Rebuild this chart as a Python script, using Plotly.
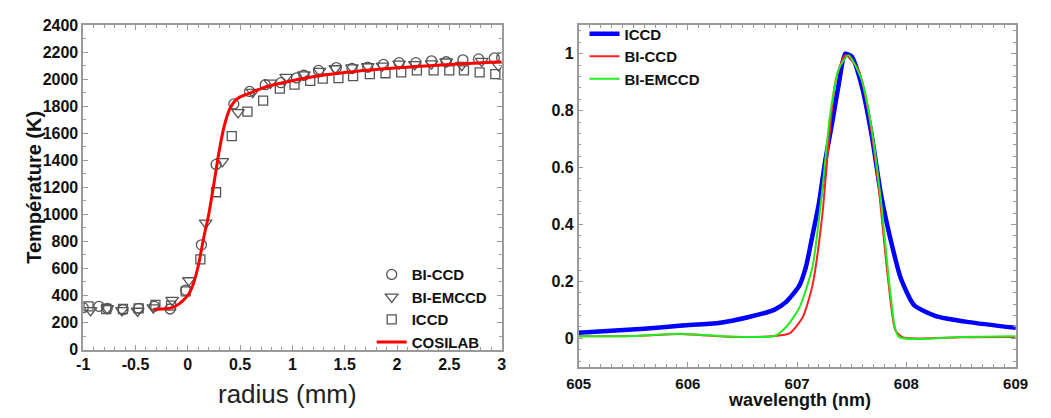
import plotly.graph_objects as go

# ---- Left panel: radial temperature profiles ----
bicc_r = [-1.0, -0.85, -0.77, -0.62, -0.47, -0.32, -0.17, -0.02, 0.13, 0.27, 0.44, 0.59, 0.74,
          0.89, 1.04, 1.11, 1.25, 1.42, 1.57, 1.72, 1.87, 2.02, 2.18, 2.33, 2.47, 2.63, 2.78, 2.93, 3.0]
bicc_t = [310, 320, 305, 295, 305, 320, 300, 440, 775, 1370, 1818, 1910, 1960,
          1975, 2010, 2030, 2066, 2087, 2080, 2090, 2110, 2123, 2123, 2137, 2130, 2144, 2151, 2158, 2160]

emccd_r = [-0.93, -0.77, -0.63, -0.48, -0.33, -0.15, 0.01, 0.17, 0.33, 0.48, 0.62, 0.79, 0.94,
           1.11, 1.26, 1.41, 1.57, 1.72, 1.86, 2.02, 2.17, 2.33, 2.47, 2.62, 2.81, 2.97]
emccd_t = [290, 305, 290, 285, 310, 365, 511, 937, 1392, 1755, 1905, 1974, 2016,
           2035, 2060, 2080, 2087, 2095, 2100, 2115, 2110, 2116, 2130, 2105, 2135, 2102]

iccd_r = [-0.95, -0.78, -0.62, -0.47, -0.31, -0.16, -0.02, 0.12, 0.27, 0.42, 0.57, 0.72, 0.88,
          1.02, 1.17, 1.29, 1.44, 1.58, 1.74, 1.89, 2.04, 2.19, 2.35, 2.50, 2.64, 2.79, 2.94]
iccd_t = [320, 300, 300, 305, 330, 325, 430, 667, 1164, 1580, 1761, 1842, 1931,
          1960, 1988, 2005, 2009, 2024, 2038, 2045, 2052, 2066, 2066, 2066, 2066, 2052, 2038]

cosilab_r = [-0.33, -0.25, -0.15, -0.08, 0.0, 0.05, 0.1, 0.15, 0.2, 0.25, 0.3, 0.35, 0.4,
             0.45, 0.5, 0.6, 0.75, 1.0, 1.13, 1.5, 2.0, 2.5, 3.0]
cosilab_t = [298, 300, 310, 340, 400, 480, 620, 820, 1000, 1230, 1470, 1660, 1780,
             1840, 1870, 1900, 1945, 1990, 2010, 2050, 2085, 2110, 2130]

radius_ticks = [-1, -0.5, 0, 0.5, 1, 1.5, 2, 2.5, 3]
radius_labels = ["-1", "-0.5", "0", "0.5", "1", "1.5", "2", "2.5", "3"]

# ---- Right panel: normalised line profiles ----
iccd_wl = [605.0, 605.6, 605.95, 606.28, 606.55, 606.79, 606.9, 607.02, 607.08, 607.14, 607.2,
           607.26, 607.32, 607.38, 607.44, 607.5, 607.59, 607.68, 607.77, 607.86, 607.95,
           608.07, 608.27, 608.57, 609.0]
iccd_int = [0.020, 0.034, 0.045, 0.054, 0.074, 0.10, 0.128, 0.185, 0.25, 0.36, 0.475,
            0.63, 0.755, 0.89, 1.0, 0.99, 0.89, 0.72, 0.50, 0.34, 0.21,
            0.117, 0.078, 0.057, 0.037]

bccd_wl = [605.0, 605.5, 605.92, 606.4, 606.79, 606.93, 607.05, 607.14, 607.23, 607.29, 607.35,
           607.44, 607.56, 607.65, 607.74, 607.83, 607.9, 607.97, 608.5, 609.0]
bccd_int = [0.007, 0.008, 0.015, 0.005, 0.008, 0.017, 0.073, 0.185, 0.43, 0.69, 0.90,
            0.995, 0.945, 0.80, 0.553, 0.218, 0.028, 0.003, 0.004, 0.005]

bemccd_wl = [605.0, 605.5, 605.92, 606.4, 606.79, 606.9, 607.02, 607.14, 607.23, 607.3, 607.38,
             607.47, 607.59, 607.68, 607.77, 607.86, 607.93, 608.5, 609.0]
bemccd_int = [0.007, 0.008, 0.016, 0.006, 0.008, 0.04, 0.107, 0.25, 0.52, 0.78, 0.945,
              0.995, 0.91, 0.745, 0.475, 0.14, 0.006, 0.005, 0.007]

FONT = "Liberation Sans, Arial, sans-serif"
GREY = "#9a9a9a"
MARK = "#555555"

fig = go.Figure()

fig.add_trace(go.Scatter(x=bicc_r, y=bicc_t, mode="markers", name="BI-CCD",
                         marker=dict(symbol="circle-open", size=10, color=MARK, line=dict(width=1.3)),
                         xaxis="x", yaxis="y", legend="legend"))
fig.add_trace(go.Scatter(x=emccd_r, y=emccd_t, mode="markers", name="BI-EMCCD",
                         marker=dict(symbol="triangle-down-open", size=11, color=MARK, line=dict(width=1.3)),
                         xaxis="x", yaxis="y", legend="legend"))
fig.add_trace(go.Scatter(x=iccd_r, y=iccd_t, mode="markers", name="ICCD",
                         marker=dict(symbol="square-open", size=9, color=MARK, line=dict(width=1.3)),
                         xaxis="x", yaxis="y", legend="legend"))
fig.add_trace(go.Scatter(x=cosilab_r, y=cosilab_t, mode="lines", name="COSILAB",
                         line=dict(color="#ff0000", width=3, shape="spline", smoothing=0.8),
                         xaxis="x", yaxis="y", legend="legend"))

fig.add_trace(go.Scatter(x=iccd_wl, y=iccd_int, mode="lines+markers", name="ICCD",
                         line=dict(color="#0000ff", width=4.5, shape="spline", smoothing=0.6),
                         marker=dict(size=4, color="#0000ff"),
                         xaxis="x2", yaxis="y2", legend="legend2"))
fig.add_trace(go.Scatter(x=bccd_wl, y=bccd_int, mode="lines", name="BI-CCD",
                         line=dict(color="#ff2020", width=2, shape="spline", smoothing=0.6),
                         xaxis="x2", yaxis="y2", legend="legend2"))
fig.add_trace(go.Scatter(x=bemccd_wl, y=bemccd_int, mode="lines", name="BI-EMCCD",
                         line=dict(color="#20ee20", width=2, shape="spline", smoothing=0.6),
                         xaxis="x2", yaxis="y2", legend="legend2"))

W, H = 1051, 418


def dom_x(a, b):
    return [a / W, b / W]


def dom_y(top, bottom):
    return [1 - bottom / H, 1 - top / H]


axis_common = dict(showline=True, linecolor=GREY, linewidth=1.5, mirror="ticks",
                   ticks="inside", ticklen=5, tickcolor=GREY, showgrid=False, zeroline=False)
bold16 = dict(family=FONT, size=16, color="#111111", weight="bold")
bold15 = dict(family=FONT, size=15, color="#111111", weight="bold")

fig.update_layout(
    width=W, height=H,
    margin=dict(l=0, r=0, t=0, b=0),
    paper_bgcolor="white", plot_bgcolor="white",
    showlegend=True,
    xaxis=dict(domain=dom_x(72, 501), range=[-1, 3], tickvals=radius_ticks, ticktext=radius_labels,
               anchor="y", tickfont=bold16,
               minor=dict(dtick=0.1, ticks="inside", ticklen=3, tickcolor=GREY),
               **axis_common),
    yaxis=dict(domain=dom_y(18, 356), range=[0, 2400], dtick=200, anchor="x", tickfont=bold16,
               minor=dict(dtick=100, ticks="inside", ticklen=3, tickcolor=GREY),
               **axis_common),
    xaxis2=dict(domain=dom_x(580, 1028), range=[605, 609], dtick=1, anchor="y2",
                ticklabelstandoff=2, tickfont=bold15,
                minor=dict(dtick=0.1, ticks="inside", ticklen=3, tickcolor=GREY),
                **axis_common),
    yaxis2=dict(domain=dom_y(18, 374), range=[-0.1, 1.1], tickvals=[0, 0.2, 0.4, 0.6, 0.8, 1],
                ticktext=["0", "0.2", "0.4", "0.6", "0.8", "1"], anchor="x2", tickfont=bold16,
                minor=dict(dtick=0.04, ticks="inside", ticklen=3, tickcolor=GREY),
                **axis_common),
    legend=dict(x=0.468, y=1 - 365 / H, xanchor="right", yanchor="bottom",
                bgcolor="rgba(0,0,0,0)", tracegroupgap=0, itemwidth=30, font=bold15),
    legend2=dict(x=586 / W, y=1 - 10 / H, xanchor="left", yanchor="top",
                 bgcolor="rgba(0,0,0,0)", tracegroupgap=0, itemwidth=30, font=bold15),
    annotations=[
        dict(text="Température (K)", x=22 / W, y=1 - 187 / H, xref="paper", yref="paper",
             xanchor="center", yanchor="middle", textangle=-90, showarrow=False,
             font=dict(family=FONT, size=20, color="#111111", weight="bold")),
        dict(text="radius (mm)", x=281 / W, y=1 - 402 / H, xref="paper", yref="paper",
             xanchor="center", yanchor="middle",
             showarrow=False, font=dict(family=FONT, size=26, color="#222222")),
        dict(text="wavelength (nm)", x=806 / W, y=1 - 409 / H, xref="paper", yref="paper",
             xanchor="center", yanchor="middle", borderpad=0,
             showarrow=False, font=dict(family=FONT, size=18, color="#111111", weight="bold")),
    ],
)

fig.write_html("out.html")
